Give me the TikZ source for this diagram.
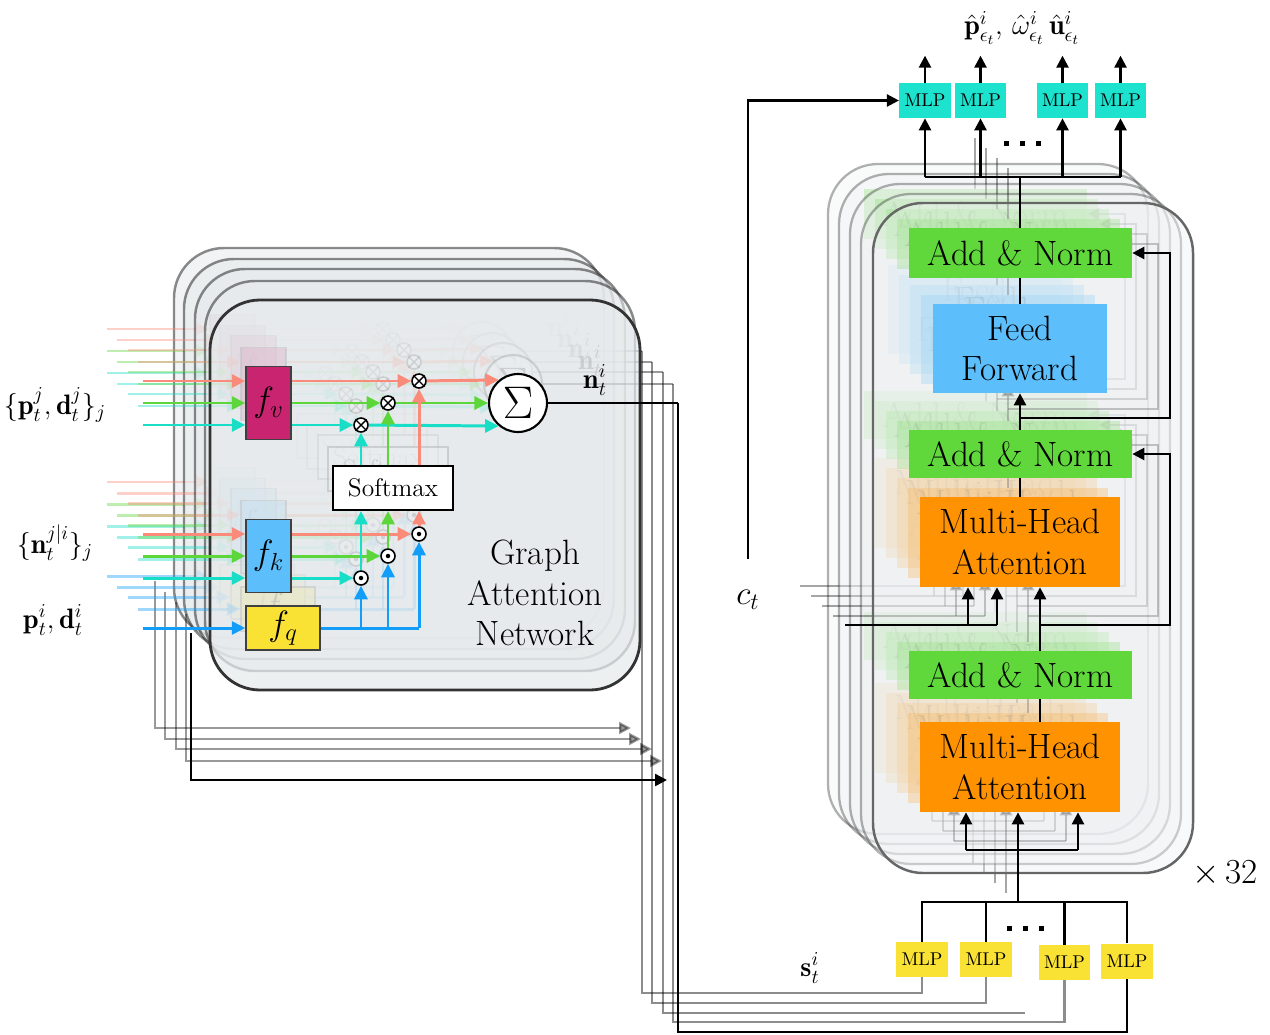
\RequirePackage{fix-cm}
\documentclass[tikz,border=0pt]{standalone}
\usepackage{fontspec}
\usepackage{amsmath}
\usetikzlibrary{arrows.meta}

\definecolor{cSal}{RGB}{250,138,122}
\definecolor{cGrn}{RGB}{92,214,58}
\definecolor{cCyn}{RGB}{24,222,200}
\definecolor{cBlu}{RGB}{18,158,248}
\definecolor{cMag}{RGB}{200,36,112}
\definecolor{cSky}{RGB}{92,190,250}
\definecolor{cYel}{RGB}{250,226,52}
\definecolor{cAdd}{RGB}{96,216,60}
\definecolor{cOrg}{RGB}{255,146,0}
\definecolor{cTeal}{RGB}{28,226,206}
\definecolor{gatFill}{RGB}{230,234,236}
\definecolor{tfFill}{RGB}{238,241,243}

\tikzset{
  x=0.02cm, y=-0.02cm,
  ctip/.style={-{Triangle[length=0.27cm,width=0.26cm]}},
  bktip/.style={-{Triangle[length=0.24cm,width=0.24cm]}},
  cline/.style={line width=1.7pt, draw=#1},
  carr/.style={cline=#1, ctip},
  blk/.style={line width=1.4pt, draw=black},
  blkarr/.style={blk, bktip},
  fbox/.style={draw=black!75, line width=0.8pt, fill=#1, inner sep=0pt,
    font=\fontsize{20pt}{22pt}\selectfont},
  opnode/.style={circle, draw=black, line width=0.9pt, fill=white,
    minimum size=0.28cm, inner sep=0pt},
  tfblock/.style={fill=#1, inner sep=0pt, align=center,
    font=\fontsize{20pt}{23pt}\selectfont},
  mlp/.style={fill=#1, inner sep=0pt, minimum width=1.03cm, minimum height=0.7cm,
    font=\fontsize{10.5pt}{12pt}\selectfont},
  mathlab/.style={inner sep=0pt, font=\fontsize{16pt}{18pt}\selectfont},
  gatframe/.style={rounded corners=1.0cm, draw=black!80, line width=1.6pt,
    fill=gatFill, fill opacity=0.7},
  gatghostframe/.style={rounded corners=1.0cm, draw=black, draw opacity=0.45,
    line width=1.4pt, fill=gatFill, fill opacity=0.55},
  tfframe/.style={rounded corners=1.0cm, draw=black!60, line width=1.4pt,
    fill=tfFill, fill opacity=0.4},
  tfghostframe/.style={rounded corners=1.0cm, draw=black, draw opacity=0.3,
    line width=1.3pt, fill=tfFill, fill opacity=0.35},
}

% ---------- graph attention layer ----------
\newcommand\gatbody{%
  \node[fbox=cMag, minimum width=0.9cm, minimum height=1.46cm] (fv) at (268.5,403) {$f_v$};
  \node[fbox=cSky, minimum width=0.9cm, minimum height=1.46cm] (fk) at (268.5,556) {$f_k$};
  \node[fbox=cYel, minimum width=1.48cm, minimum height=0.88cm] (fq) at (283,628) {$f_q$};
  \node[draw, line width=1.1pt, fill=white, minimum width=2.4cm, minimum height=0.88cm,
    inner sep=0pt, font=\fontsize{14.5pt}{16pt}\selectfont] (sm) at (393,488) {Softmax};
  \node[opnode] (m1) at (419,381) {};
  \node[opnode] (m2) at (388,403) {};
  \node[opnode] (m3) at (361,425) {};
  \node[opnode] (d1) at (419,534) {};
  \node[opnode] (d2) at (388,556) {};
  \node[opnode] (d3) at (361,578) {};
  \node[circle, draw, line width=1.2pt, fill=white, minimum size=1.16cm, inner sep=0pt,
    font=\fontsize{26pt}{26pt}\selectfont] (sig) at (518,403) {$\Sigma$};
  \draw[line width=0.8pt] (m1.45) -- (m1.225) (m1.135) -- (m1.315)
    (m2.45) -- (m2.225) (m2.135) -- (m2.315)
    (m3.45) -- (m3.225) (m3.135) -- (m3.315);
  \fill (d1) circle (0.045cm) (d2) circle (0.045cm) (d3) circle (0.045cm);
  % inputs
  \coordinate (iv1) at (143,381); \coordinate (iv2) at (143,403); \coordinate (iv3) at (143,425);
  \coordinate (ik1) at (143,534); \coordinate (ik2) at (143,556); \coordinate (ik3) at (143,578);
  \coordinate (iq) at (143,628);
  \draw[carr=cSal] (iv1) -- (iv1 -| fv.west);
  \draw[carr=cGrn] (iv2) -- (iv2 -| fv.west);
  \draw[carr=cCyn] (iv3) -- (iv3 -| fv.west);
  \draw[carr=cSal] (ik1) -- (ik1 -| fk.west);
  \draw[carr=cGrn] (ik2) -- (ik2 -| fk.west);
  \draw[carr=cCyn] (ik3) -- (ik3 -| fk.west);
  \draw[carr=cBlu] (iq) -- (fq.west);
  % values weighted and summed
  \draw[carr=cSal] (m1 -| fv.east) -- (m1);
  \draw[carr=cGrn] (m2 -| fv.east) -- (m2);
  \draw[carr=cCyn] (m3 -| fv.east) -- (m3);
  \draw[carr=cSal] (m1) -- (sig.130);
  \draw[carr=cGrn] (m2) -- (sig.west);
  \draw[carr=cCyn] (m3) -- (sig.230);
  \draw[carr=cCyn] (sm.north -| m3) -- (m3);
  \draw[carr=cGrn] (sm.north -| m2) -- (m2);
  \draw[carr=cSal] (sm.north -| m1) -- (m1);
  % keys against the query
  \draw[carr=cSal] (d1 -| fk.east) -- (d1);
  \draw[carr=cGrn] (d2 -| fk.east) -- (d2);
  \draw[carr=cCyn] (d3 -| fk.east) -- (d3);
  \draw[carr=cSal] (d1) -- (d1 |- sm.south);
  \draw[carr=cGrn] (d2) -- (d2 |- sm.south);
  \draw[carr=cCyn] (d3) -- (d3 |- sm.south);
  \draw[cline=cBlu] (fq.east) -- (fq.east -| d1);
  \draw[carr=cBlu] (fq.east -| d1) -- (d1);
  \draw[carr=cBlu] (fq.east -| d2) -- (d2);
  \draw[carr=cBlu] (fq.east -| d3) -- (d3);
  % output and own-state bypass
  \coordinate (nT) at (678,403);
  \draw[blk] (sig.east) -- (nT);
  \node[mathlab] (nlab) at (595,380) {$\mathbf{n}_t^i$};
  \coordinate (bp0) at (191,633); \coordinate (bp1) at (191,780); \coordinate (bp2) at (667,780);
  \draw[blkarr] (bp0) -- (bp1) -- (bp2);
}
\newcommand\gatghost[2]{%
  \begin{scope}[shift={(#1,#2)}]
    \draw[gatghostframe] (210,300) rectangle (640,690);
    \begin{scope}[opacity=0.4]\gatbody\end{scope}
  \end{scope}}
\newcommand\gatroute[4]{%
  \coordinate (rt) at (#1,#2); \coordinate (rb) at (#1,#3);
  \draw[blk, opacity=0.45] (rt) -- (rb) -| (#4);}

% ---------- transformer layer ----------
\newcommand\tfbody{%
  \node[tfblock=cAdd, minimum width=4.46cm, minimum height=1.0cm] (an3) at (1020.5,253) {Add \& Norm};
  \node[tfblock=cSky, minimum width=3.48cm, minimum height=1.78cm] (ff) at (1020,348.5) {Feed\\Forward};
  \node[tfblock=cAdd, minimum width=4.46cm, minimum height=0.96cm] (an2) at (1020.5,454) {Add \& Norm};
  \node[tfblock=cOrg, minimum width=4.0cm, minimum height=1.8cm] (mh2) at (1020,542) {Multi-Head\\Attention};
  \node[tfblock=cAdd, minimum width=4.46cm, minimum height=0.96cm] (an1) at (1020.5,675) {Add \& Norm};
  \node[tfblock=cOrg, minimum width=4.0cm, minimum height=1.8cm] (mh1) at (1020,767) {Multi-Head\\Attention};
  \coordinate (j1) at (1040,625); \coordinate (r1) at (1170,625);
  \coordinate (j2) at (1020,418); \coordinate (r2) at (1170,418);
  \draw[blk] (mh1.north -| j1) -- (an1.south -| j1);
  \draw[blkarr] (an1.north -| j1) -- (mh2.south -| j1);
  \draw[blkarr] (j1) -- (r1) |- (an2.east);
  \draw[blk] (mh2.north -| j2) -- (an2.south -| j2);
  \draw[blkarr] (an2.north -| j2) -- (ff.south -| j2);
  \draw[blkarr] (j2) -- (r2) |- (an3.east);
  \draw[blk] (ff.north -| j2) -- (an3.south -| j2);
  \coordinate (tp) at (1020,177);
  \draw[blk] (an3.north -| tp) -- (tp);
  \coordinate (c0) at (845,625); \coordinate (c1) at (968,625); \coordinate (c2) at (997,625);
  \draw[blk] (c0) -- (c2);
  \draw[blkarr] (c1) -- (mh2.south -| c1);
  \draw[blkarr] (c2) -- (mh2.south -| c2);
  \coordinate (b0) at (1018,902); \coordinate (bl) at (966,850); \coordinate (br) at (1078,850);
  \draw[blk] (bl) -- (br);
  \draw[blkarr] (bl) -- (mh1.south -| bl);
  \draw[blkarr] (br) -- (mh1.south -| br);
  \draw[blkarr] (b0) -- (mh1.south -| b0);
}
\newcommand\tfghost[2]{%
  \begin{scope}[shift={(#1,#2)}]
    \draw[tfghostframe] (873,203) rectangle (1193,873);
    \begin{scope}[opacity=0.35]\tfbody\end{scope}
  \end{scope}}

\begin{document}
\begin{tikzpicture}
\fill[white] (0,0) rectangle (1270,1034);
\useasboundingbox (0,0) rectangle (1270,1034);

% per-agent MLPs
\node[mlp=cTeal] (tm1) at (925,100.5) {MLP};
\node[mlp=cTeal] (tm2) at (980.5,100.5) {MLP};
\node[mlp=cTeal] (tm3) at (1062.5,100.5) {MLP};
\node[mlp=cTeal] (tm4) at (1120.5,100.5) {MLP};
\node[mlp=cYel] (bm1) at (922,959.5) {MLP};
\node[mlp=cYel] (bm2) at (986,959.5) {MLP};
\node[mlp=cYel] (bm3) at (1064.5,962.5) {MLP};
\node[mlp=cYel] (bm4) at (1127,961) {MLP};

% transformer stack
\tfghost{-45}{-39}
\tfghost{-34}{-29}
\tfghost{-23}{-19}
\tfghost{-12}{-9}
\draw[tfframe] (873,203) rectangle (1193,873);
\tfbody

% decoder heads
\coordinate (th) at (1020,177);
\draw[blk] (tm1 |- th) -- (tm4 |- th);
\foreach \m in {tm1,tm2,tm3,tm4}{
  \draw[blkarr] (\m |- th) -- (\m.south);
  \draw[blkarr] (\m.north) -- ++(0,-27);
}
\foreach \x in {1006,1022,1038} \fill (\x-2.5,140.5) rectangle ++(5,5);
\node[mathlab] (outlab) at (1022,28)
  {$\hat{\mathbf{p}}^i_{\epsilon_t},\, \hat{\omega}^i_{\epsilon_t}\, \hat{\mathbf{u}}^i_{\epsilon_t}$};

% context vector
\coordinate (ct0) at (748,559);
\draw[blkarr] (ct0) |- (tm1.west);
\node[inner sep=0pt, font=\fontsize{19pt}{20pt}\selectfont] (ctlab) at (748,600) {$c_t$};

% state encoders
\coordinate (bh) at (1018,902);
\draw[blk] (bm1.north) |- (bm4.north |- bh) -- (bm4.north);
\draw[blk] (bm2.north) -- (bm2.north |- bh);
\draw[blk] (bm3.north) -- (bm3.north |- bh);
\foreach \x in {1009,1025,1041} \fill (\x-2.5,925.5) rectangle ++(5,5);
\node[inner sep=0pt, font=\fontsize{20pt}{22pt}\selectfont] (rep) at (1225,873) {$\times$\,32};
\node[mathlab] (slab) at (810,968) {$\mathbf{s}_t^i$};

% graph attention stack
\coordinate (gap) at (1025,1013);
\gatghost{-36}{-52}
\gatroute{642}{351}{993}{bm1.south}
\gatghost{-26}{-41}
\gatroute{652}{362}{1003}{bm2.south}
\gatghost{-15}{-31}
\gatroute{663}{372}{1013}{gap}
\gatghost{-5}{-19}
\gatroute{673}{384}{1022}{bm3.south}
\draw[gatframe] (210,300) rectangle (640,690);
\gatbody
\coordinate (nB) at (678,1032);
\draw[blk] (nT) -- (nB) -| (bm4.south);

\node[align=center, font=\fontsize{20pt}{23pt}\selectfont] (gatlab) at (535,593) {Graph\\Attention\\Network};
\node[mathlab] (lab1) at (55,405) {$\{\mathbf{p}_t^j, \mathbf{d}_t^j\}_j$};
\node[mathlab] (lab2) at (55,543) {$\{\mathbf{n}_t^{j|i}\}_j$};
\node[mathlab] (lab3) at (53,620) {$\mathbf{p}_t^i, \mathbf{d}_t^i$};
\end{tikzpicture}
\end{document}
